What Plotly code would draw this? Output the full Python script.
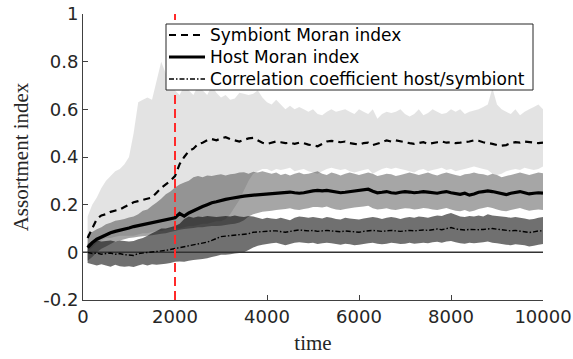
import plotly.graph_objects as go

# time grid (simulation steps)
time = list(range(100, 10001, 100))

sym_mean = [0.06, 0.10, 0.14, 0.155, 0.16, 0.17, 0.175, 0.18, 0.19, 0.20,
            0.21, 0.215, 0.22, 0.225, 0.23, 0.25, 0.27, 0.285, 0.30, 0.32,
            0.37, 0.40, 0.425, 0.435, 0.455, 0.46, 0.47, 0.475, 0.47, 0.478,
            0.483, 0.475, 0.47, 0.465, 0.472, 0.478, 0.48, 0.47, 0.46, 0.455,
            0.46, 0.465, 0.462, 0.458, 0.46, 0.455, 0.46, 0.458, 0.452, 0.448,
            0.445, 0.455, 0.465, 0.468, 0.465, 0.462, 0.465, 0.458, 0.455, 0.452,
            0.458, 0.46, 0.45, 0.455, 0.462, 0.47, 0.465, 0.47, 0.465, 0.462,
            0.458, 0.455, 0.46, 0.462, 0.455, 0.46, 0.462, 0.465, 0.46, 0.462,
            0.458, 0.46, 0.462, 0.465, 0.47, 0.468, 0.462, 0.46, 0.455, 0.45,
            0.448, 0.45, 0.458, 0.462, 0.46, 0.465, 0.462, 0.46, 0.458, 0.46]

sym_upper = [0.15, 0.2, 0.23, 0.27, 0.3, 0.32, 0.34, 0.35, 0.37, 0.4,
             0.5, 0.63, 0.64, 0.65, 0.64, 0.72, 0.8, 0.75, 0.7, 0.68,
             0.66, 0.7, 0.68, 0.66, 0.7, 0.68, 0.66, 0.7, 0.67, 0.65,
             0.66, 0.64, 0.645, 0.67, 0.665, 0.66, 0.665, 0.68, 0.65, 0.63,
             0.62, 0.64, 0.62, 0.6, 0.615, 0.6, 0.61, 0.6, 0.59, 0.6,
             0.58, 0.575, 0.59, 0.6, 0.59, 0.595, 0.6, 0.59, 0.58, 0.6,
             0.59, 0.58, 0.6, 0.56, 0.58, 0.59, 0.585, 0.59, 0.6, 0.58,
             0.57, 0.58, 0.6, 0.575, 0.585, 0.6, 0.59, 0.58, 0.585, 0.6,
             0.59, 0.6, 0.58, 0.59, 0.595, 0.6, 0.61, 0.62, 0.69, 0.62,
             0.6, 0.59, 0.58, 0.6, 0.575, 0.59, 0.6, 0.61, 0.62, 0.6]

sym_lower = [0.0, 0.02, 0.04, 0.05, 0.06, 0.06, 0.065, 0.07, 0.07, 0.07,
             0.07, 0.075, 0.08, 0.08, 0.085, 0.09, 0.09, 0.095, 0.1, 0.1,
             0.1, 0.105, 0.11, 0.11, 0.115, 0.12, 0.12, 0.125, 0.13, 0.13,
             0.14, 0.16, 0.19, 0.22, 0.26, 0.3, 0.33, 0.34, 0.35, 0.35,
             0.34, 0.35, 0.345, 0.35, 0.355, 0.34, 0.345, 0.35, 0.34, 0.335,
             0.33, 0.34, 0.35, 0.355, 0.35, 0.345, 0.35, 0.34, 0.335, 0.34,
             0.345, 0.35, 0.33, 0.34, 0.35, 0.355, 0.35, 0.355, 0.35, 0.345,
             0.34, 0.335, 0.345, 0.35, 0.34, 0.345, 0.35, 0.355, 0.345, 0.35,
             0.34, 0.345, 0.35, 0.355, 0.36, 0.355, 0.35, 0.345, 0.33, 0.325,
             0.33, 0.34, 0.345, 0.35, 0.345, 0.355, 0.35, 0.345, 0.35, 0.36]

host_mean = [0.02, 0.04, 0.055, 0.065, 0.075, 0.082, 0.088, 0.092, 0.098, 0.102,
             0.108, 0.112, 0.118, 0.122, 0.125, 0.13, 0.135, 0.138, 0.142, 0.145,
             0.163, 0.152, 0.165, 0.175, 0.185, 0.192, 0.2, 0.208, 0.212, 0.218,
             0.222, 0.226, 0.23, 0.232, 0.236, 0.238, 0.24, 0.242, 0.243, 0.245,
             0.247, 0.248, 0.25, 0.252, 0.253, 0.25, 0.248, 0.25, 0.255, 0.258,
             0.26, 0.258, 0.26, 0.256, 0.252, 0.25, 0.252, 0.255, 0.256, 0.258,
             0.262, 0.265, 0.256, 0.25, 0.252, 0.255, 0.25, 0.248, 0.252, 0.255,
             0.253, 0.25, 0.252, 0.255, 0.253, 0.25, 0.248, 0.252, 0.255, 0.25,
             0.245, 0.243, 0.248, 0.24, 0.245, 0.252, 0.255, 0.258, 0.255, 0.25,
             0.245, 0.242, 0.248, 0.252, 0.255, 0.25, 0.245, 0.248, 0.25, 0.248]

host_upper = [0.076, 0.085, 0.097, 0.105, 0.118, 0.124, 0.132, 0.136, 0.14, 0.146,
              0.15, 0.16, 0.174, 0.18, 0.195, 0.209, 0.225, 0.244, 0.255, 0.272,
              0.285, 0.293, 0.3, 0.315, 0.32, 0.315, 0.322, 0.32, 0.325, 0.328,
              0.322, 0.328, 0.33, 0.335, 0.336, 0.33, 0.338, 0.335, 0.34, 0.335,
              0.33, 0.335, 0.325, 0.33, 0.322, 0.33, 0.335, 0.328, 0.33, 0.335,
              0.34, 0.33, 0.325, 0.335, 0.33, 0.322, 0.33, 0.335, 0.33, 0.325,
              0.33, 0.335, 0.33, 0.32, 0.325, 0.33, 0.328, 0.32, 0.325, 0.33,
              0.335, 0.33, 0.325, 0.33, 0.335, 0.328, 0.322, 0.33, 0.335, 0.33,
              0.325, 0.32, 0.328, 0.33, 0.335, 0.33, 0.328, 0.322, 0.33, 0.325,
              0.315, 0.32, 0.325, 0.33, 0.335, 0.33, 0.325, 0.33, 0.335, 0.332]

host_lower = [-0.035, -0.02, 0.0, 0.015, 0.025, 0.035, 0.045, 0.05, 0.055, 0.06,
              0.062, 0.065, 0.068, 0.07, 0.072, 0.075, 0.078, 0.08, 0.085, 0.09,
              0.095, 0.098, 0.1, 0.102, 0.105, 0.105, 0.108, 0.11, 0.11, 0.112,
              0.115, 0.118, 0.12, 0.125, 0.135, 0.15, 0.16, 0.165, 0.17, 0.172,
              0.175, 0.178, 0.18, 0.182, 0.185, 0.18, 0.178, 0.182, 0.185, 0.19,
              0.19, 0.188, 0.192, 0.185, 0.18, 0.178, 0.182, 0.185, 0.188, 0.19,
              0.192, 0.195, 0.185, 0.18, 0.182, 0.185, 0.18, 0.178, 0.182, 0.185,
              0.184, 0.18, 0.182, 0.186, 0.184, 0.18, 0.178, 0.182, 0.186, 0.18,
              0.175, 0.172, 0.178, 0.17, 0.175, 0.182, 0.186, 0.19, 0.186, 0.18,
              0.175, 0.172, 0.178, 0.182, 0.186, 0.18, 0.175, 0.178, 0.18, 0.178]

corr_mean = [0.0, -0.005, -0.003, -0.008, -0.005, -0.003, -0.008, -0.005, -0.01, -0.012,
             -0.013, -0.005, -0.003, 0.0, 0.0, 0.002, 0.005, 0.008, 0.012, 0.016,
             0.02, 0.022, 0.025, 0.03, 0.034, 0.038, 0.043, 0.05, 0.058, 0.066,
             0.068, 0.07, 0.072, 0.074, 0.076, 0.078, 0.084, 0.086, 0.087, 0.088,
             0.09, 0.09, 0.088, 0.084, 0.088, 0.092, 0.094, 0.092, 0.09, 0.092,
             0.088, 0.09, 0.092, 0.09, 0.088, 0.086, 0.09, 0.088, 0.085, 0.084,
             0.088, 0.09, 0.092, 0.09, 0.088, 0.09, 0.092, 0.09, 0.088, 0.09,
             0.092, 0.09, 0.092, 0.094, 0.092, 0.096, 0.098, 0.095, 0.1, 0.104,
             0.098, 0.095, 0.094, 0.096, 0.094, 0.095, 0.096, 0.098, 0.1, 0.097,
             0.094, 0.092, 0.09, 0.092, 0.09, 0.088, 0.083, 0.086, 0.09, 0.09]

corr_upper = [0.035, 0.045, 0.05, 0.045, 0.048, 0.05, 0.045, 0.05, 0.048, 0.045,
              0.048, 0.055, 0.06, 0.07, 0.08, 0.09, 0.1, 0.1, 0.105, 0.11,
              0.12, 0.14, 0.15, 0.145, 0.15, 0.148, 0.152, 0.15, 0.148, 0.15,
              0.152, 0.15, 0.155, 0.15, 0.148, 0.152, 0.15, 0.145, 0.14, 0.145,
              0.142, 0.14, 0.145, 0.14, 0.135, 0.145, 0.15, 0.148, 0.145, 0.148,
              0.145, 0.142, 0.148, 0.145, 0.14, 0.138, 0.145, 0.142, 0.14, 0.138,
              0.142, 0.145, 0.148, 0.145, 0.14, 0.145, 0.148, 0.145, 0.14, 0.145,
              0.148, 0.145, 0.15, 0.148, 0.145, 0.15, 0.155, 0.152, 0.16, 0.165,
              0.158, 0.15, 0.148, 0.152, 0.15, 0.155, 0.15, 0.16, 0.155, 0.152,
              0.15, 0.148, 0.145, 0.148, 0.145, 0.142, 0.138, 0.14, 0.145, 0.148]

corr_lower = [-0.045, -0.05, -0.055, -0.05, -0.055, -0.06, -0.052, -0.058, -0.06, -0.058,
              -0.062, -0.055, -0.05, -0.055, -0.05, -0.052, -0.05, -0.048, -0.045, -0.04,
              -0.038, -0.04, -0.035, -0.032, -0.03, -0.028, -0.025, -0.02, -0.015, -0.01,
              -0.01, -0.008, -0.005, -0.003, 0.0, 0.01, 0.02, 0.028, 0.032, 0.035,
              0.038, 0.04, 0.035, 0.03, 0.035, 0.04, 0.042, 0.04, 0.038, 0.04,
              0.035, 0.038, 0.04, 0.038, 0.035, 0.032, 0.036, 0.034, 0.03, 0.032,
              0.035, 0.038, 0.04, 0.036, 0.034, 0.036, 0.04, 0.038, 0.035, 0.036,
              0.04, 0.036, 0.038, 0.04, 0.038, 0.042, 0.044, 0.04, 0.045, 0.048,
              0.042, 0.038, 0.036, 0.04, 0.038, 0.04, 0.042, 0.045, 0.04, 0.038,
              0.035, 0.032, 0.03, 0.034, 0.032, 0.03, 0.025, 0.028, 0.032, 0.035]

series_names = ["Symbiont Moran index", "Host Moran index",
                "Correlation coefficient host/symbiont"]
x_ticks = [0, 2000, 4000, 6000, 8000, 10000]
x_ticktext = ["0", "2000", "4000", "6000", "8000", "10000"]
y_ticks = [-0.2, 0, 0.2, 0.4, 0.6, 0.8, 1]
y_ticktext = ["-0.2", "0", "0.2", "0.4", "0.6", "0.8", "1"]
switch_time = 2000
zero_x = [0, 10000]
zero_y = [0, 0]

# page geometry (pixels)
W, H = 573, 359
L, R, T, B = 83, 30, 14, 59
PW, PH = W - L - R, H - T - B


def px_x(p):
    return (p - L) / PW


def px_y(p):
    return (H - B - p) / PH


line_styles = [dict(color="black", width=2.2, dash="7px,5px"),
               dict(color="black", width=3.2),
               dict(color="black", width=1.4, dash="5px,2px,1.5px,2px")]

fig = go.Figure()


def band(lower, upper, color):
    fig.add_trace(go.Scatter(
        x=time + time[::-1], y=upper + lower[::-1],
        fill="toself", fillcolor=color, mode="none",
        showlegend=False, hoverinfo="skip"))


band(sym_lower, sym_upper, "rgba(0,0,0,0.11)")
band(host_lower, host_upper, "rgba(0,0,0,0.35)")
band(corr_lower, corr_upper, "rgba(0,0,0,0.56)")

fig.add_trace(go.Scatter(x=zero_x, y=zero_y, mode="lines",
                         line=dict(color="#333333", width=1.5),
                         showlegend=False, hoverinfo="skip"))

for name, ys, st in zip(series_names, [sym_mean, host_mean, corr_mean], line_styles):
    fig.add_trace(go.Scatter(x=time, y=ys, mode="lines", name=name,
                             line=st, showlegend=False))

fig.add_shape(type="line", xref="x", yref="y", x0=switch_time, x1=switch_time,
              y0=-0.2, y1=1, line=dict(color="#ff2a2a", width=2, dash="9px,5px"),
              layer="above")

# legend box (drawn like MATLAB's legend)
fig.add_shape(type="rect", xref="paper", yref="paper",
              x0=px_x(166), x1=px_x(533), y0=px_y(90), y1=px_y(24),
              fillcolor="white", line=dict(color="#262626", width=1), layer="above")
rows = [35, 57, 79]
for name, st, ry in zip(series_names, line_styles, rows):
    fig.add_shape(type="line", xref="paper", yref="paper",
                  x0=px_x(169), x1=px_x(205), y0=px_y(ry), y1=px_y(ry),
                  line=st, layer="above")
    fig.add_annotation(xref="paper", yref="paper", x=px_x(208), y=px_y(ry),
                       xanchor="left", yanchor="middle", showarrow=False,
                       text=name, font=dict(family="DejaVu Sans", size=17, color="black"))

tickfont = dict(family="DejaVu Sans", size=18, color="#262626")
titlefont = dict(family="Liberation Serif", size=21, color="#262626")
fig.update_layout(
    width=W, height=H, autosize=False,
    margin=dict(l=L, r=R, t=T, b=B),
    paper_bgcolor="white", plot_bgcolor="white",
    showlegend=False,
    xaxis=dict(range=[0, 10000], tickvals=x_ticks, ticktext=x_ticktext,
               ticks="inside", ticklen=5, tickcolor="#404040",
               showline=True, linecolor="#404040", linewidth=1,
               showgrid=False, zeroline=False, tickfont=tickfont,
               automargin=False,
               title=dict(text="time", font=titlefont, standoff=9)),
    yaxis=dict(range=[-0.2, 1], tickvals=y_ticks, ticktext=y_ticktext,
               ticks="inside", ticklen=5, tickcolor="#404040",
               showline=True, linecolor="#404040", linewidth=1,
               showgrid=False, zeroline=False, tickfont=tickfont,
               automargin=False,
               title=dict(text="Assortment index", font=titlefont, standoff=8)),
)

fig.write_html("out.html")
